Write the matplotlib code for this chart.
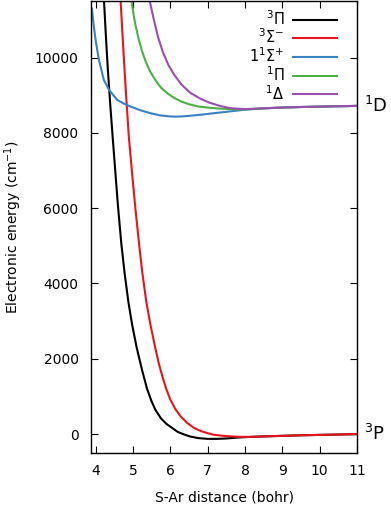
import matplotlib
matplotlib.use("Agg")
import matplotlib.pyplot as plt
import matplotlib.transforms as mtransforms

plt.rcParams['font.family'] = ['DejaVu Sans']
plt.rcParams['mathtext.fontset'] = 'dejavusans'

# --- data (R in bohr, energy in cm^-1) ---
r_3pi = [4.19, 4.22, 4.28, 4.33, 4.40, 4.46, 4.53, 4.60, 4.69, 4.78, 4.88, 4.98, 5.10,
         5.25, 5.38, 5.50, 5.60, 5.75, 5.90, 6.00, 6.20, 6.40, 6.54, 6.75, 7.00, 7.25,
         7.50, 7.80, 8.10, 8.50, 9.00, 9.50, 10.0, 10.5, 11.0]
e_3pi = [12200, 11600, 10500, 9650, 8650, 7850, 6950, 6050, 5050, 4250, 3500, 2900, 2300,
         1680, 1200, 870, 650, 420, 270, 200, 60, -20, -64, -105, -125, -125,
         -115, -90, -75, -60, -45, -30, -20, -10, 0]

r_3sig = [4.63, 4.67, 4.75, 4.82, 4.89, 4.98, 5.07, 5.17, 5.25, 5.36, 5.47, 5.60, 5.70,
          5.81, 5.90, 6.00, 6.14, 6.27, 6.45, 6.63, 6.81, 6.95, 7.16, 7.42, 7.80, 8.10,
          8.50, 9.00, 9.50, 10.0, 10.5, 11.0]
e_3sig = [12200, 11500, 10100, 8950, 7900, 6900, 5955, 5000, 4300, 3500, 2902, 2280, 1850,
          1460, 1180, 920, 660, 480, 300, 170, 85, 40, -15, -45, -70, -75,
          -60, -45, -30, -20, -10, 5]

r_1sig = [3.90, 3.95, 4.00, 4.09, 4.22, 4.36, 4.58, 4.75, 4.94, 5.20, 5.47, 5.75, 6.00,
          6.15, 6.30, 6.55, 6.81, 7.20, 7.61, 8.00, 8.50, 9.00, 9.50, 10.0, 10.5, 11.0]
e_1sig = [11300, 10850, 10468, 9936, 9405, 9140, 8873, 8780, 8697, 8600, 8520, 8460, 8435,
          8430, 8435, 8455, 8480, 8525, 8570, 8615, 8650, 8670, 8685, 8695, 8705, 8715]

r_1pi = [4.90, 4.96, 5.05, 5.15, 5.25, 5.34, 5.45, 5.60, 5.75, 5.92, 6.10, 6.30, 6.50,
         6.75, 7.00, 7.30, 7.70, 8.00, 8.50, 9.00, 9.50, 10.0, 10.5, 11.0]
e_1pi = [12000, 11500, 10950, 10500, 10150, 9900, 9650, 9400, 9200, 9050, 8930, 8830, 8760,
         8700, 8670, 8645, 8625, 8620, 8650, 8670, 8685, 8695, 8705, 8715]

r_1del = [5.40, 5.45, 5.55, 5.67, 5.80, 5.95, 6.10, 6.30, 6.54, 6.80, 7.05, 7.35, 7.61,
          8.00, 8.50, 9.00, 9.50, 10.0, 10.5, 11.0]
e_1del = [11800, 11500, 11050, 10550, 10150, 9800, 9550, 9280, 9060, 8910, 8800, 8710, 8655,
          8630, 8652, 8672, 8687, 8697, 8707, 8717]

labels = [r'$^3\Pi$', r'$^3\Sigma^{-}$', r'$1^1\Sigma^{+}$', r'$^1\Pi$', r'$^1\Delta$']
colors = ['#000000', '#e8141c', '#3a80c3', '#4cae45', '#9a4fb0']
asymptote_labels = [r'$^1$D', r'$^3$P']
asymptote_values = [8715, 0]

fig = plt.figure(figsize=(3.91, 5.05), dpi=100)
ax = fig.add_axes([0.233, 0.103, 0.680, 0.895])

series = [(r_3pi, e_3pi), (r_3sig, e_3sig), (r_1sig, e_1sig), (r_1pi, e_1pi), (r_1del, e_1del)]
for (r, e), lab, c in zip(series, labels, colors):
    ax.plot(r, e, color=c, lw=1.5, label=lab)

ax.set_xlim(3.88, 11.0)
ax.set_ylim(-500, 11500)
ax.set_xticks(range(4, 12))
ax.set_yticks(range(0, 11000, 2000))
ax.tick_params(direction='in', top=True, right=True, length=5, labelsize=10)
ax.tick_params(axis='x', pad=8)
ax.tick_params(axis='y', pad=9)
for s in ax.spines.values():
    s.set_linewidth(1.0)

ax.set_xlabel('S-Ar distance (bohr)', fontsize=10, labelpad=9)
ax.set_ylabel('Electronic energy (cm$^{-1}$)', fontsize=10, labelpad=8)

leg = ax.legend(loc='upper right', frameon=False, markerfirst=False, fontsize=10.5,
                handlelength=3.0, handletextpad=0.6, labelspacing=0.0,
                borderaxespad=0.15, bbox_to_anchor=(0.955, 1.0))
for t in leg.get_texts():
    t.set_ha('right')

trans = mtransforms.blended_transform_factory(ax.transAxes, ax.transData)
for lab, v in zip(asymptote_labels, asymptote_values):
    ax.text(1.025, v, lab, transform=trans, fontsize=13, ha='left', va='center')

fig.savefig('out.png', dpi=100)
